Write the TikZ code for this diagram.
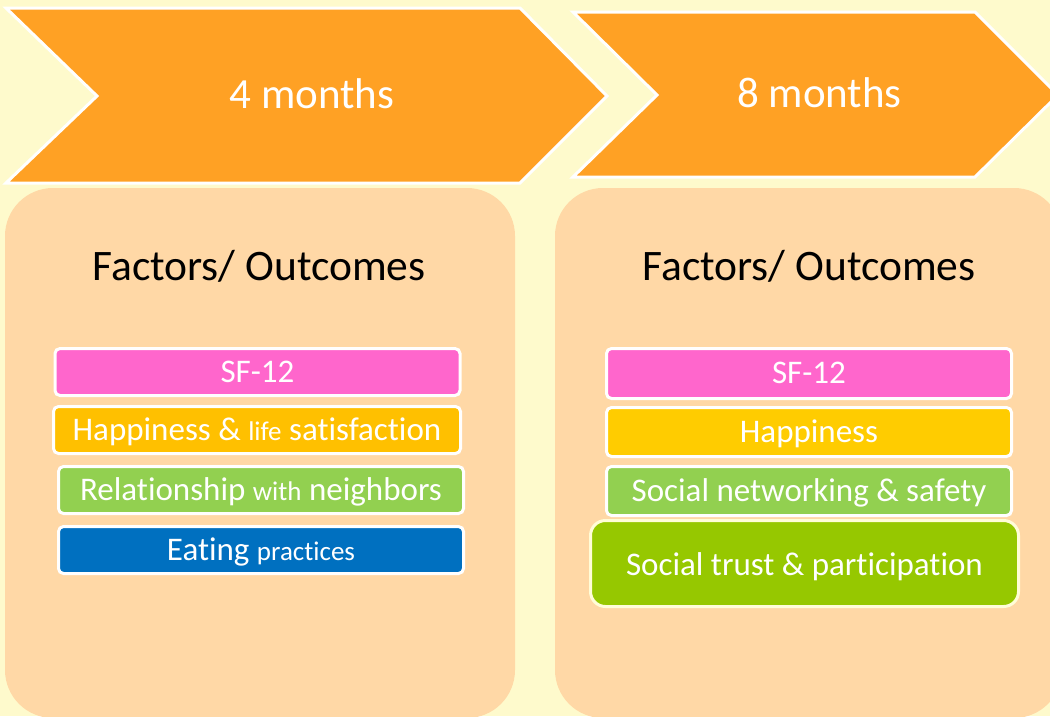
\documentclass[tikz,border=0pt]{standalone}
\usepackage{fontspec}
\setmainfont[Ligatures=NoCommon]{Carlito}
\definecolor{bgc}{HTML}{FEFACC}
\definecolor{panelc}{HTML}{FFD8A6}
\definecolor{chevc}{HTML}{FFA124}
\definecolor{pinkc}{HTML}{FF66CC}
\definecolor{ambc}{HTML}{FFC000}
\definecolor{yelc}{HTML}{FFCC00}
\definecolor{grnc}{HTML}{92D050}
\definecolor{bluc}{HTML}{0070C0}
\definecolor{olvc}{HTML}{96C800}
\definecolor{creamc}{HTML}{FFFDD8}
\tikzset{
  chevron/.style={fill=chevc, draw=white, line width=3pt, line join=miter},
  panel/.style={fill=panelc, draw=none, rounded corners=48pt},
  chevtext/.style={text=white, font=\fontsize{43}{43}\selectfont, inner sep=0pt, anchor=base},
  headtext/.style={text=black, font=\fontsize{43.5}{43.5}\selectfont, inner sep=0pt, anchor=base},
  itembox/.style={rectangle, rounded corners=5pt, draw=white, line width=3pt, text=white,
    font=\fontsize{33}{33}\selectfont, inner sep=0pt, text height=26pt, text depth=6pt,
    minimum width=405pt, minimum height=47pt},
}
\newcommand{\smw}[1]{{\fontsize{27}{27}\selectfont #1}}
\begin{document}
\begin{tikzpicture}[x=1pt,y=-1pt]
\useasboundingbox (0,0) rectangle (1050,716);
\fill[bgc] (0,0) rectangle (1050,716);
\begin{scope}
\clip (0,0) rectangle (1050,716);
% chevrons
\draw[chevron] (6,8) -- (520,8) -- (607,96) -- (520,183) -- (6,183) -- (97,96) -- cycle;
\draw[chevron] (573,12) -- (975,12) -- (1058,95) -- (975,177) -- (573,177) -- (657,95) -- cycle;
% panels
\fill[panel] (5,188) rectangle (515,718);
\fill[panel] (555,188) rectangle (1062,718);
\end{scope}
\node[chevtext] (m4) at (312,108) {4 months};
\node[chevtext] (m8) at (819.5,107) {8 months};
\node[headtext] (h1) at (259,280) {Factors/ Outcomes};
\node[headtext] (h2) at (809,280) {Factors/ Outcomes};
% left items
\node[itembox, fill=pinkc] (sf1) at (257.5,372) {SF-12};
\node[itembox, fill=ambc, minimum width=407pt] (hap1) at (257,430) {Happiness \& \smw{life} satisfaction};
\node[itembox, fill=grnc] (rel1) at (261,490) {Relationship \smw{with} neighbors};
\node[itembox, fill=bluc] (eat1) at (261,550) {Eating \smw{practices}};
% right items
\node[itembox, fill=pinkc, minimum height=50pt] (sf2) at (809,373.5) {SF-12};
\node[itembox, fill=yelc, minimum height=49pt] (hap2) at (809,432) {Happiness};
\node[itembox, fill=grnc, minimum height=49pt] (soc2) at (809,491) {Social networking \& safety};
\node[itembox, fill=olvc, draw=creamc, rounded corners=15pt, minimum width=428pt, minimum height=86pt, text depth=3pt] (tr2) at (804.5,563.5) {Social trust \& participation};
\end{tikzpicture}
\end{document}
